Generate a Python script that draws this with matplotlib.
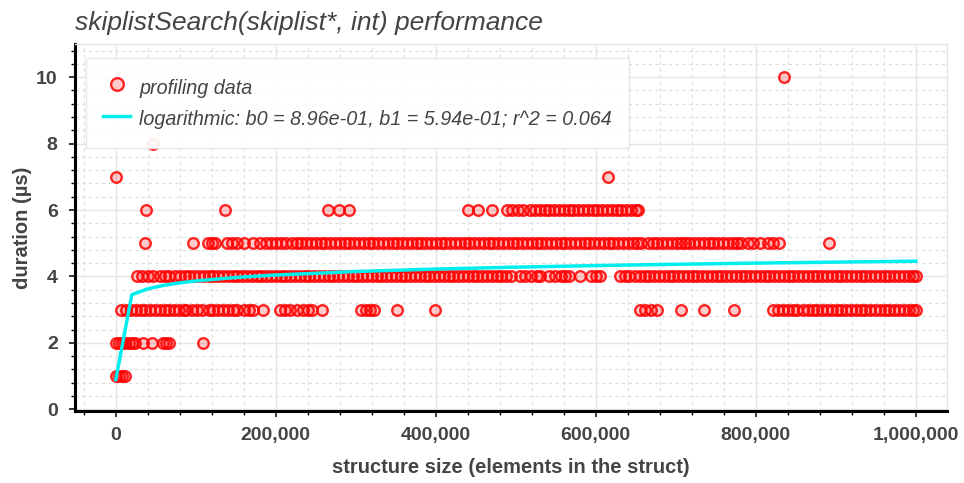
import numpy as np
import matplotlib.pyplot as plt
from matplotlib.ticker import AutoMinorLocator, FuncFormatter

# structure sizes (thousands of elements), grouped by duration (µs)
x_d1 = [0, 4, 8, 12]
x_d2 = [0, 4, 8, 12, 16, 20, 24, 34, 45, 59, 63, 67, 109]
x_d3 = [7, 13, 19, 25, 31, 37, 43, 49, 55, 61, 67, 73, 79, 85, 88,
        95, 101, 108, 116, 122, 128, 134, 140, 146, 152, 160, 166, 172,
        184, 205, 211, 218, 226, 234, 240, 245, 258, 307, 313, 318, 323,
        351, 399, 655, 662, 669, 676, 706, 735, 773,
        822, 828, 834, 840, 846, 851, 859, 865, 871, 877, 883, 889, 895,
        901, 907, 913, 919, 925, 931, 937, 943, 949, 955, 961, 967, 973,
        979, 985, 991, 996, 1000]
x_d4 = [26, 33, 40, 47, 55, 61, 67,
        74, 80, 86, 92, 98, 104, 110, 116, 122, 128, 134, 140, 146, 152,
        158, 164, 170, 176, 182, 188, 194, 200, 206, 212, 218, 224, 230,
        236, 242, 248, 254, 260, 266, 272, 278, 284, 290, 296, 302, 308,
        314, 320, 326, 332, 338, 344, 350, 356, 362, 368, 374, 380, 386,
        392, 398, 404, 410, 416, 422, 428, 434, 440, 446, 452, 458, 464,
        470, 476, 482, 488, 494,
        505, 512, 519, 526, 530, 542, 549, 556, 562, 567, 580, 594, 600, 605,
        630, 636, 642,
        649, 655, 661, 667, 673, 679, 685, 691, 697, 703, 709, 715, 721,
        727, 733, 739, 745, 751, 757, 763, 769, 775, 781, 787, 793, 799,
        805, 811, 817, 823, 829, 835, 841, 847, 853, 859, 865, 871, 877,
        883, 889, 895, 901, 907, 913, 919, 925, 931, 937, 943, 949, 955,
        961, 967, 973, 979, 985, 991, 996, 1000]
x_d5 = [37, 96, 115, 120, 124, 139, 145, 151, 160, 171, 180,
        188, 194, 200, 207, 213,
        220, 226, 232, 238, 244, 250, 256, 262, 268, 274, 280, 286, 292,
        298, 304, 310, 316, 322, 328, 334, 340, 346, 352, 358, 364, 370,
        376, 382, 388, 394, 400, 406, 412, 418, 424, 430, 436, 442, 448,
        454, 460, 466, 472, 478, 484, 490, 496, 502, 508, 514, 520, 526,
        532, 538, 544, 550, 556, 562, 568, 574, 580, 586, 592, 598, 604,
        610, 616, 622, 628, 634, 640, 646, 652, 657,
        665, 671, 677, 683, 689, 695, 701, 707,
        711, 717, 723, 729, 735, 741, 747, 753, 759, 765, 771, 777, 782,
        790, 797, 805, 815, 822, 829, 891]
x_d6 = [38, 137, 265, 279, 291, 440, 453, 470, 489, 495, 503, 509,
        518, 524, 530, 536, 542, 548, 554, 560, 566, 572, 578, 584, 590,
        596, 602, 608, 614, 620, 626, 632, 638, 644, 650, 653]
x_d7 = [0, 615]
x_d8 = [46]
x_d10 = [835]

# logarithmic fit from the legend: y = b0 + b1 * log10(x)
b0 = 8.96e-01
b1 = 5.94e-01
r2 = 0.064
fit_x = [1, 20000, 40000, 60000, 80000, 100000, 150000, 200000, 300000,
         400000, 500000, 600000, 700000, 800000, 900000, 1000000]

groups = [(x_d1, 1), (x_d2, 2), (x_d3, 3), (x_d4, 4), (x_d5, 5),
          (x_d6, 6), (x_d7, 7), (x_d8, 8), (x_d10, 10)]
xs = np.concatenate([np.array(g) * 1000.0 for g, _ in groups])
ys = np.concatenate([np.full(len(g), d, dtype=float) for g, d in groups])

fit_x = np.array(fit_x, dtype=float)
fit_y = b0 + b1 * np.log10(fit_x)

plt.rcParams['font.family'] = ['Liberation Sans', 'DejaVu Sans']
txt = '#444444'

fig = plt.figure(figsize=(9.64, 4.83), dpi=100)
ax = fig.add_axes([75 / 964, 1 - 411 / 483, 872 / 964, 367 / 483])

ax.scatter(xs, ys, s=58, marker='o', facecolor=(1, 0, 0, 0.2),
           edgecolor=(1, 0, 0, 0.85), linewidth=1.7, zorder=3,
           label='profiling data')
ax.plot(fit_x, fit_y, color='#00eeee', linewidth=2.5, zorder=4,
        label=f'logarithmic: b0 = {b0:.2e}, b1 = {b1:.2e}; r^2 = {r2:.3f}')

ax.set_xlim(-51000, 1039000)
ax.set_ylim(-0.05, 11)
ax.set_xticks([0, 200000, 400000, 600000, 800000, 1000000])
ax.set_yticks([0, 2, 4, 6, 8, 10])
ax.xaxis.set_minor_locator(AutoMinorLocator(5))
ax.yaxis.set_minor_locator(AutoMinorLocator(5))
ax.xaxis.set_major_formatter(FuncFormatter(lambda v, p: f'{int(v):,}'))

ax.grid(True, which='major', color='#e5e5e5', linewidth=1, zorder=0)
ax.grid(True, which='minor', color='#dddddd', linewidth=0.8,
        linestyle=(0, (3, 3)), zorder=0)
ax.set_axisbelow(True)

for side in ['left', 'bottom']:
    ax.spines[side].set_color('black')
    ax.spines[side].set_linewidth(2.2)
for side in ['top', 'right']:
    ax.spines[side].set_color('#e5e5e5')
    ax.spines[side].set_linewidth(1)

ax.tick_params(which='major', length=4.5, width=1.1, color='black',
               labelcolor=txt, labelsize=14)
ax.tick_params(axis='x', which='major', pad=7)
ax.tick_params(axis='y', which='major', pad=8)
ax.tick_params(which='minor', length=3, width=1, color='black')
for lbl in ax.get_xticklabels() + ax.get_yticklabels():
    lbl.set_fontweight('bold')

ax.set_xlabel('structure size (elements in the struct)', fontsize=14.5,
              fontweight='bold', color=txt, labelpad=10)
ax.set_ylabel('duration (µs)', fontsize=14.5, fontweight='bold', color=txt,
              labelpad=3)

fig.text(75 / 964, 1 - 23 / 483, 'skiplistSearch(skiplist*, int) performance',
         fontsize=19, style='italic', color=txt, va='center', ha='left')

leg = ax.legend(loc='upper left', bbox_to_anchor=(0.0127, 0.962),
                borderaxespad=0, frameon=True, fancybox=False,
                prop={'style': 'italic', 'size': 14.2},
                labelcolor=txt, handlelength=1.4, handleheight=1.6,
                handletextpad=0.45, borderpad=0.85, labelspacing=0.3,
                markerscale=1.2)
leg.get_frame().set_edgecolor('#e5e5e5')
leg.get_frame().set_facecolor('white')
leg.get_frame().set_alpha(0.93)
leg.set_zorder(5)

fig.savefig('out.png', dpi=100)
